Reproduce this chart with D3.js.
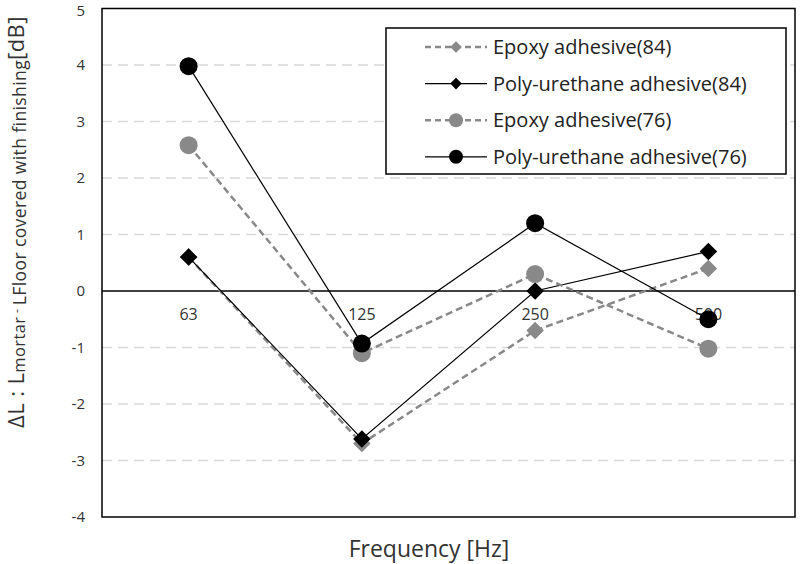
<!DOCTYPE html>
<html>
<head>
<meta charset="utf-8">
<script src="https://cdn.jsdelivr.net/npm/d3@7"></script>
<style>
  body { margin: 0; background: #fff; }
  text { font-family: "Open Sans", "Noto Sans", sans-serif; }
</style>
</head>
<body>
<div id="chart"></div>
<script>
// data
var freqs = ["63", "125", "250", "500"];
var yTicks = [-4, -3, -2, -1, 0, 1, 2, 3, 4, 5];
var epoxy84 = [0.6, -2.7, -0.7, 0.4];
var pu84 = [0.6, -2.62, 0.0, 0.7];
var epoxy76 = [2.58, -1.1, 0.3, -1.02];
var pu76 = [3.98, -0.93, 1.2, -0.5];

var series = [
  {name: "Epoxy adhesive(84)", values: epoxy84, color: "#898989", dash: "7,4", width: 2.5, shape: "diamond"},
  {name: "Poly-urethane adhesive(84)", values: pu84, color: "#000", dash: null, width: 1.2, shape: "diamond"},
  {name: "Epoxy adhesive(76)", values: epoxy76, color: "#898989", dash: "7,4", width: 2.5, shape: "circle"},
  {name: "Poly-urethane adhesive(76)", values: pu76, color: "#000", dash: null, width: 1.2, shape: "circle"}
];

var width = 800, height = 564;
var margin = {top: 8.5, right: 5, bottom: 47, left: 102};

var svg = d3.select("#chart").append("svg")
  .attr("width", width)
  .attr("height", height);

var x = d3.scaleBand()
  .domain(freqs)
  .range([margin.left, width - margin.right]);

var y = d3.scaleLinear()
  .domain([-4, 5])
  .range([height - margin.bottom, margin.top]);

// gridlines
svg.append("g")
  .selectAll("line")
  .data(yTicks.filter(function(d) { return d != 0 && d != 5 && d != -4; }))
  .enter().append("line")
  .attr("x1", margin.left)
  .attr("x2", width - margin.right)
  .attr("y1", function(d) { return y(d); })
  .attr("y2", function(d) { return y(d); })
  .attr("stroke", "#d9d9d9")
  .attr("stroke-width", 1.5)
  .attr("stroke-dasharray", "10,6");

// y tick labels
svg.append("g")
  .selectAll("text")
  .data(yTicks)
  .enter().append("text")
  .attr("x", margin.left - 17)
  .attr("y", function(d) { return Math.max(y(d), 11); })
  .attr("dy", "0.36em")
  .attr("text-anchor", "end")
  .attr("font-size", 15)
  .attr("fill", "#333")
  .text(function(d) { return d; });

// zero line
svg.append("line")
  .attr("x1", margin.left)
  .attr("x2", width - margin.right)
  .attr("y1", y(0))
  .attr("y2", y(0))
  .attr("stroke", "#000")
  .attr("stroke-width", 1.5);

// category labels under the zero line
svg.append("g")
  .selectAll("text")
  .data(freqs)
  .enter().append("text")
  .attr("x", function(d) { return x(d) + x.bandwidth() / 2; })
  .attr("y", y(0) + 29)
  .attr("text-anchor", "middle")
  .attr("font-size", 16)
  .attr("fill", "#333")
  .text(function(d) { return d; });

// plot border
svg.append("rect")
  .attr("x", margin.left)
  .attr("y", margin.top)
  .attr("width", width - margin.right - margin.left)
  .attr("height", height - margin.bottom - margin.top)
  .attr("fill", "none")
  .attr("stroke", "#000")
  .attr("stroke-width", 1.5);

var line = d3.line()
  .x(function(d, i) { return x(freqs[i]) + x.bandwidth() / 2; })
  .y(function(d) { return y(d); });

var diamond = d3.symbol().type(d3.symbolDiamond2);

function drawMarker(g, shape, color, size) {
  if (shape == "circle") {
    g.append("circle").attr("r", size).attr("fill", color);
  } else {
    g.append("path")
      .attr("d", diamond.size(size * size * 2.4)())
      .attr("fill", color);
  }
}

series.forEach(function(s) {
  var path = svg.append("path")
    .datum(s.values)
    .attr("d", line)
    .attr("fill", "none")
    .attr("stroke", s.color)
    .attr("stroke-width", s.width);
  if (s.dash) path.attr("stroke-dasharray", s.dash);

  s.values.forEach(function(v, i) {
    var g = svg.append("g")
      .attr("transform", "translate(" + (x(freqs[i]) + x.bandwidth() / 2) + "," + y(v) + ")");
    drawMarker(g, s.shape, s.color, 9);
  });
});

// legend
var legend = svg.append("g");
legend.append("rect")
  .attr("x", 386)
  .attr("y", 28)
  .attr("width", 400)
  .attr("height", 146)
  .attr("fill", "#fff")
  .attr("stroke", "#000")
  .attr("stroke-width", 1.5);

series.forEach(function(s, i) {
  var ly = 47 + i * 36.6;
  var l = legend.append("line")
    .attr("x1", 425)
    .attr("x2", 487)
    .attr("y1", ly)
    .attr("y2", ly)
    .attr("stroke", s.color)
    .attr("stroke-width", s.width);
  if (s.dash) l.attr("stroke-dasharray", "6,4");
  var g = legend.append("g").attr("transform", "translate(456," + ly + ")");
  drawMarker(g, s.shape, s.color, s.shape == "circle" ? 7 : 6);
  legend.append("text")
    .attr("x", 493)
    .attr("y", ly)
    .attr("dy", "0.36em")
    .attr("font-size", 20)
    .attr("fill", "#222")
    .text(s.name);
});

// axis titles
svg.append("text")
  .attr("x", 429)
  .attr("y", 557)
  .attr("text-anchor", "middle")
  .attr("font-size", 23)
  .attr("fill", "#333")
  .text("Frequency [Hz]");

var yt = svg.append("text")
  .attr("transform", "translate(24,428) rotate(-90)")
  .attr("text-anchor", "start")
  .attr("font-size", 22)
  .attr("letter-spacing", 0.4)
  .attr("fill", "#333");
yt.append("tspan").text("ΔL : L");
yt.append("tspan").attr("font-size", 16.5).attr("dy", 1).text("mortar");
yt.append("tspan").attr("font-size", 12).attr("dy", -4).text(" - ");
yt.append("tspan").attr("font-size", 17.5).attr("dy", 5).text("LFloor covered with finishing");
yt.append("tspan").attr("font-size", 22).attr("dy", -2).text("[dB]");
</script>
</body>
</html>
